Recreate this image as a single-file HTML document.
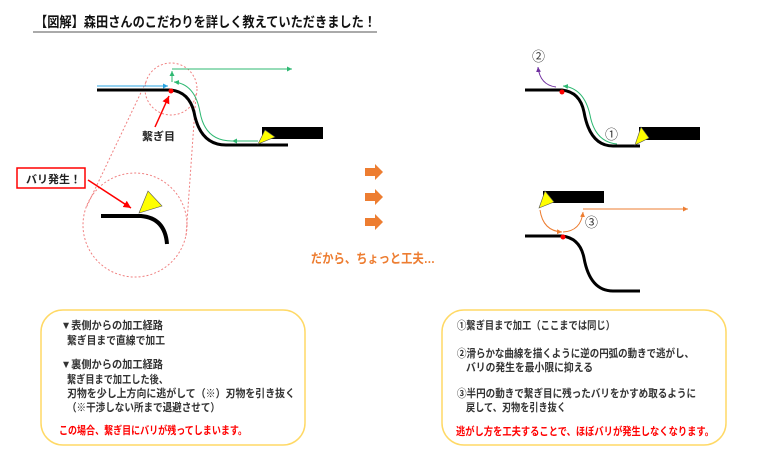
<!DOCTYPE html>
<html><head><meta charset="utf-8"><style>
body{margin:0;background:#fff;width:768px;height:461px;overflow:hidden}
svg{display:block}
text{font-family:"Liberation Sans","Noto Sans CJK JP",sans-serif}
</style></head><body>
<svg width="768" height="461" viewBox="0 0 768 461" xmlns="http://www.w3.org/2000/svg">
<defs>
<marker id="ab" markerWidth="6" markerHeight="6" refX="5" refY="3" orient="auto"><path d="M0,0.5 L5,3 L0,5.5z" fill="#29a3e0"/></marker>
<marker id="ag" markerWidth="6" markerHeight="6" refX="5" refY="3" orient="auto"><path d="M0,0.5 L5,3 L0,5.5z" fill="#2eb872"/></marker>
<marker id="ap" markerWidth="6" markerHeight="6" refX="5" refY="3" orient="auto"><path d="M0,0.5 L5,3 L0,5.5z" fill="#7030a0"/></marker>
<marker id="ao" markerWidth="6" markerHeight="6" refX="5" refY="3" orient="auto"><path d="M0,0.5 L5,3 L0,5.5z" fill="#ed7d31"/></marker>
<marker id="ar" markerWidth="6" markerHeight="6" refX="5" refY="3" orient="auto"><path d="M0,0.5 L5,3 L0,5.5z" fill="#f00"/></marker>
</defs>
<text x="35" y="27" font-size="14" font-weight="bold" fill="#111" textLength="341" lengthAdjust="spacingAndGlyphs">【図解】森田さんのこだわりを詳しく教えていただきました！</text>
<line x1="33" y1="32" x2="377" y2="32" stroke="#555" stroke-width="1"/>

<circle cx="171" cy="89" r="26" fill="none" stroke="#f08080" stroke-dasharray="2,2"/>
<circle cx="135" cy="225" r="52" fill="none" stroke="#f08080" stroke-dasharray="2,2"/>
<line x1="146" y1="82" x2="86" y2="208" stroke="#f08080" stroke-dasharray="2,2"/>
<line x1="196" y1="94" x2="186" y2="236" stroke="#f08080" stroke-dasharray="2,2"/>
<line x1="97" y1="86" x2="168" y2="86" stroke="#29a3e0" stroke-width="1" marker-end="url(#ab)"/>
<path d="M97,90 L171,90 Q189,92 194,112 Q200,145 226,145 L288,145" fill="none" stroke="#000" stroke-width="3"/>
<circle cx="171" cy="91" r="2.5" fill="#f00"/>
<path d="M258,141 L232,141" fill="none" stroke="#2eb872" marker-end="url(#ag)"/>
<path d="M232,141 Q205,141 200,112 Q195,84 174,82" fill="none" stroke="#2eb872" marker-end="url(#ag)"/>
<path d="M172,82 L172,71" fill="none" stroke="#2eb872" marker-end="url(#ag)"/>
<path d="M172,69 L292,69" fill="none" stroke="#2eb872" marker-end="url(#ag)"/>
<rect x="262" y="127" width="61" height="12" fill="#000"/>
<polygon points="258,144 265,130 275,137" fill="#ff0" stroke="#555" stroke-width="0.6"/>
<text x="142" y="140" font-size="11" font-weight="bold" fill="#222">繋ぎ目</text>
<line x1="155" y1="127" x2="169" y2="96" stroke="#f00" stroke-width="1.5" marker-end="url(#ar)"/>
<rect x="17" y="168" width="68" height="20" fill="#fff" stroke="#f00" stroke-width="1.5"/>
<text x="26" y="183" font-size="11" font-weight="bold" fill="#222">バリ発生！</text>
<line x1="88" y1="180" x2="131" y2="208" stroke="#f00" stroke-width="1.5" marker-end="url(#ar)"/>
<path d="M101,216 L141,216 Q165,218 167,244" fill="none" stroke="#000" stroke-width="4"/>
<polygon points="139,213 148,191 162,206" fill="#ff0" stroke="#555" stroke-width="0.6"/>

<g fill="#ed7d31">
<polygon points="365,168 375,168 375,164 383,172 375,180 375,176 365,176"/>
<polygon points="365,193 375,193 375,189 383,197 375,205 375,201 365,201"/>
<polygon points="365,218 375,218 375,214 383,222 375,230 375,226 365,226"/>
</g>
<text x="311" y="263" font-size="13" font-weight="bold" fill="#ed7d31" textLength="124" lengthAdjust="spacingAndGlyphs">だから、ちょっと工夫…</text>

<path d="M525,90 L562,90 Q580,92 584,112 Q590,146 613,146 L640,146" fill="none" stroke="#000" stroke-width="3"/>
<circle cx="562" cy="92" r="2.5" fill="#f00"/>
<path d="M617,144 Q595,142 590,115 Q584,88 563,86" fill="none" stroke="#2eb872" marker-end="url(#ag)"/>
<path d="M556,87 Q540,85 538,67" fill="none" stroke="#7030a0" marker-end="url(#ap)"/>
<rect x="639" y="127" width="61" height="13" fill="#000"/>
<polygon points="635,145 641,127 649,138" fill="#ff0" stroke="#555" stroke-width="0.6"/>
<text x="532" y="61" font-size="13" fill="#333">②</text>
<text x="605" y="139" font-size="13" fill="#333">①</text>

<rect x="543" y="191" width="61" height="12" fill="#000"/>
<polygon points="539,208 545,191 554,202" fill="#ff0" stroke="#555" stroke-width="0.6"/>
<path d="M540,210 Q543,231 562,232" fill="none" stroke="#ed7d31" marker-end="url(#ao)"/>
<path d="M563,232 Q581,231 583,212" fill="none" stroke="#ed7d31" marker-end="url(#ao)"/>
<path d="M583,209 L688,209" fill="none" stroke="#ed7d31" marker-end="url(#ao)"/>
<text x="585" y="227" font-size="13" fill="#333">③</text>
<path d="M525,236 L562,236 Q580,238 584,258 Q590,291 613,291 L640,291" fill="none" stroke="#000" stroke-width="3"/>
<circle cx="563" cy="237" r="2.5" fill="#f00"/>

<rect x="41" y="310" width="264" height="135" rx="22" fill="#fff" stroke="#ffd966" stroke-width="1.5"/>
<g font-size="11" font-weight="bold" fill="#333" lengthAdjust="spacingAndGlyphs">
<text x="61" y="329" textLength="102" lengthAdjust="spacingAndGlyphs">▼表側からの加工経路</text>
<text x="67" y="344" textLength="98" lengthAdjust="spacingAndGlyphs">繋ぎ目まで直線で加工</text>
<text x="61" y="368" textLength="102" lengthAdjust="spacingAndGlyphs">▼裏側からの加工経路</text>
<text x="67" y="383" textLength="101" lengthAdjust="spacingAndGlyphs">繋ぎ目まで加工した後、</text>
<text x="67" y="397" textLength="228" lengthAdjust="spacingAndGlyphs">刃物を少し上方向に逃がして（※）刃物を引き抜く</text>
<text x="67" y="411" textLength="153" lengthAdjust="spacingAndGlyphs">（※干渉しない所まで退避させて）</text>
<text x="59" y="434" fill="#f00" textLength="188" lengthAdjust="spacingAndGlyphs">この場合、繋ぎ目にバリが残ってしまいます。</text>
</g>
<rect x="442" y="310" width="284" height="135" rx="22" fill="#fff" stroke="#ffd966" stroke-width="1.5"/>
<g font-size="11" font-weight="bold" fill="#333">
<text x="457" y="329" textLength="158" lengthAdjust="spacingAndGlyphs">①繋ぎ目まで加工（ここまでは同じ）</text>
<text x="457" y="357" textLength="237" lengthAdjust="spacingAndGlyphs">②滑らかな曲線を描くように逆の円弧の動きで逃がし、</text>
<text x="466" y="371" textLength="127" lengthAdjust="spacingAndGlyphs">バリの発生を最小限に抑える</text>
<text x="457" y="397" textLength="239" lengthAdjust="spacingAndGlyphs">③半円の動きで繋ぎ目に残ったバリをかすめ取るように</text>
<text x="466" y="411" textLength="100" lengthAdjust="spacingAndGlyphs">戻して、刃物を引き抜く</text>
<text x="456" y="435" fill="#f00" textLength="258" lengthAdjust="spacingAndGlyphs">逃がし方を工夫することで、ほぼバリが発生しなくなります。</text>
</g>
</svg>
</body></html>
